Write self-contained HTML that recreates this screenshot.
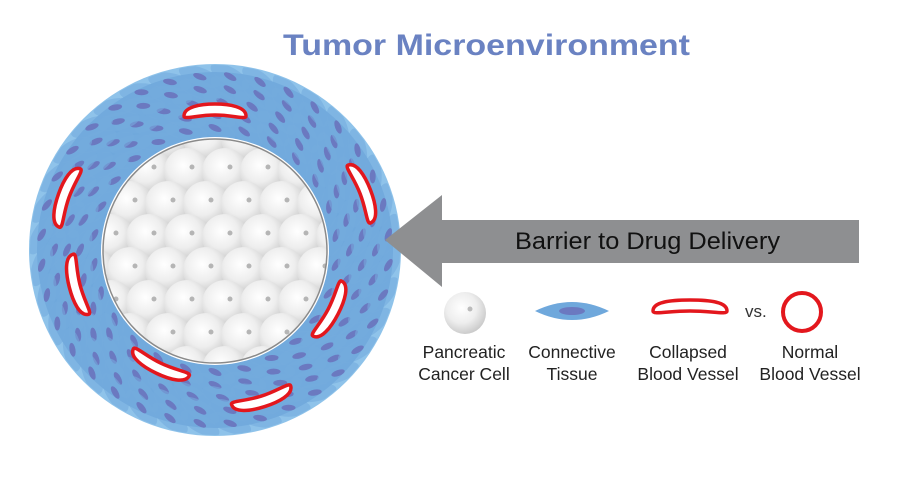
<!DOCTYPE html>
<html><head><meta charset="utf-8"><style>
html,body{margin:0;padding:0;background:#fff;width:900px;height:478px;overflow:hidden}
svg{display:block}
text{font-family:"Liberation Sans",sans-serif}
</style></head><body>
<svg id="s" width="900" height="478" viewBox="0 0 900 478" xmlns="http://www.w3.org/2000/svg">
<defs>
<radialGradient id="cg" cx="0.42" cy="0.38" r="0.65">
<stop offset="0" stop-color="#ffffff"/><stop offset="0.55" stop-color="#eeeeee"/><stop offset="1" stop-color="#c8c8c8"/>
</radialGradient>
<clipPath id="inner"><circle cx="215" cy="251" r="112"/></clipPath>
<clipPath id="ringclip"><circle cx="215" cy="250" r="185"/></clipPath>
</defs>
<text x="283" y="55" font-size="30" font-weight="bold" fill="#6a82c2" textLength="407" lengthAdjust="spacingAndGlyphs">Tumor Microenvironment</text>
<circle cx="215" cy="250" r="186" fill="#8fc3ea"/>
<circle cx="215" cy="250" r="178" fill="#6fa8dc"/>
<g id="tis" clip-path="url(#ringclip)"></g>
<circle cx="215" cy="251" r="114" fill="#fff"/>
<g id="cells" clip-path="url(#inner)"></g>
<circle cx="215" cy="251" r="112" fill="none" stroke="#8a8a8a" stroke-width="1.5"/>
<g id="ves"></g>
<polygon points="385,240 442,195 442,220 859,220 859,263 442,263 442,287" fill="#8e8f91"/>
<text x="515" y="249" font-size="24" fill="#111" textLength="265" lengthAdjust="spacingAndGlyphs">Barrier to Drug Delivery</text>
<circle cx="465" cy="313" r="21" fill="url(#cg)"/>
<circle cx="470" cy="309" r="2.5" fill="#bbb"/>
<path d="M535,311 Q572,293 609,311 Q572,329 535,311Z" fill="#6fa8dc"/>
<ellipse cx="572" cy="311" rx="13" ry="4" fill="#6b79c0"/>
<path d="M653,311 C653,302 670,300 690,300 C710,300 727,302 727,311 C727,315 712,311 690,311 C668,311 653,315 653,311Z" fill="#fff" stroke="#e3171d" stroke-width="3.5"/>
<text x="745" y="317" font-size="17" fill="#333">vs.</text>
<circle cx="802" cy="312" r="19" fill="none" stroke="#e3171d" stroke-width="4"/>
<g font-size="17.5" fill="#222" text-anchor="middle">
<text x="464" y="358">Pancreatic</text><text x="464" y="380">Cancer Cell</text>
<text x="572" y="358">Connective</text><text x="572" y="380">Tissue</text>
<text x="688" y="358">Collapsed</text><text x="688" y="380">Blood Vessel</text>
<text x="810" y="358">Normal</text><text x="810" y="380">Blood Vessel</text>
</g>
</svg>
<script>
var NS="http://www.w3.org/2000/svg";
function el(p,t,a){var e=document.createElementNS(NS,t);for(var k in a)e.setAttribute(k,a[k]);p.appendChild(e);return e;}
var tis=document.getElementById('tis');
var cx=215,cy=250;
for(var r=122;r<=180;r+=13){
  var n=Math.round(2*Math.PI*r/30);
  for(var i=0;i<n;i++){
    var a=(i+(Math.round(r/13))%2*0.5)/n*2*Math.PI;
    var x=cx+r*Math.cos(a),y=cy+r*Math.sin(a);
    var deg=a*180/Math.PI+90+25;
    el(tis,'ellipse',{cx:x,cy:y,rx:22,ry:9,fill:'#74abdd',opacity:0.6,transform:'rotate('+deg+' '+x+' '+y+')'});
    el(tis,'ellipse',{cx:x,cy:y,rx:7,ry:3,fill:'#6b79c0',transform:'rotate('+deg+' '+x+' '+y+')'});
  }
}
var cells=document.getElementById('cells');
for(var row=0;row<8;row++){for(var c=0;c<8;c++){
  var x=92+c*38+(row%2)*19, y=138+row*33;
  el(cells,'circle',{cx:x,cy:y,r:23,fill:'url(#cg)'});
  el(cells,'circle',{cx:x+5,cy:y-4,r:2.5,fill:'#b5b5b5'});
}}
var ves=document.getElementById('ves');
var V=[[215,113],[67,197],[78,285],[160,365],[262,398],[330,310],[362,193]];
V.forEach(function(v){
  var th=Math.atan2(v[1]-cy,v[0]-cx)*180/Math.PI+90;
  el(ves,'path',{d:'M-31,3 C-31,-6 -15,-9 0,-9 C15,-9 31,-6 31,3 C31,7 18,2 0,2 C-18,2 -31,7 -31,3Z',fill:'#fff',stroke:'#e3171d','stroke-width':3.5,
  transform:'translate('+v[0]+' '+v[1]+') rotate('+th+')'});
});
</script>
</body></html>
